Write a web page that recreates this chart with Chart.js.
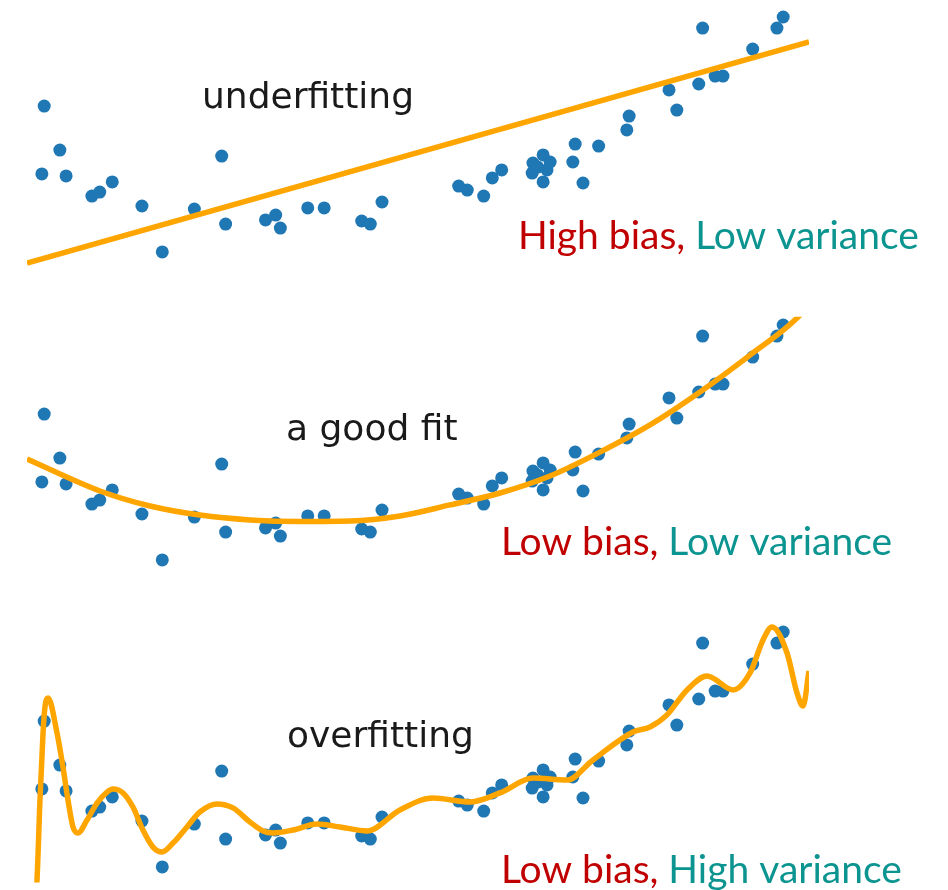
<!DOCTYPE html>
<html>
<head>
<meta charset="utf-8">
<script src="https://cdn.jsdelivr.net/npm/chart.js@4.4.1/dist/chart.umd.min.js"></script>
<style>
  html, body { margin: 0; padding: 0; background: #ffffff; }
  #wrap { position: relative; width: 948px; height: 890px; overflow: hidden; background: #ffffff; }
  #wrap canvas { position: absolute; left: 0; }
</style>
</head>
<body>
<div id="wrap">
  <canvas id="panel0" width="948" height="308" style="top:0px"></canvas>
  <canvas id="panel1" width="948" height="307" style="top:308px"></canvas>
  <canvas id="panel2" width="948" height="275" style="top:615px"></canvas>
</div>
<script>
// Observed samples (same set in every panel)
const sampleX = [0.019, 0.022, 0.042, 0.050, 0.083, 0.093, 0.109, 0.147, 0.173, 0.214,
                 0.249, 0.254, 0.305, 0.318, 0.324, 0.359, 0.380, 0.428, 0.439, 0.454,
                 0.552, 0.563, 0.584, 0.595, 0.607, 0.646, 0.647, 0.653, 0.660, 0.660,
                 0.665, 0.669, 0.698, 0.701, 0.711, 0.731, 0.767, 0.770, 0.821, 0.831,
                 0.859, 0.864, 0.880, 0.890, 0.928, 0.959, 0.967];
const sampleY = [0.403, 0.710, 0.511, 0.394, 0.303, 0.321, 0.367, 0.258, 0.050, 0.244,
                 0.484, 0.176, 0.195, 0.217, 0.158, 0.249, 0.249, 0.190, 0.176, 0.276,
                 0.348, 0.330, 0.303, 0.385, 0.421, 0.407, 0.452, 0.434, 0.489, 0.367,
                 0.421, 0.457, 0.457, 0.538, 0.362, 0.529, 0.602, 0.665, 0.783, 0.692,
                 0.810, 1.063, 0.846, 0.846, 0.968, 1.063, 1.113];

// Degree-1 model
const underfitX = [0, 1];
const underfitY = [0, 1];

// Quadratic-like model
const goodFitX = [0, 0.0934, 0.1573, 0.2212, 0.2852, 0.3491, 0.4130, 0.4770, 0.5409,
                  0.6049, 0.6688, 0.7327, 0.7967, 0.8606, 0.9246, 0.9859, 1.0];
const goodFitY = [0.507, 0.362, 0.294, 0.253, 0.231, 0.224, 0.226, 0.249, 0.299,
                  0.353, 0.430, 0.538, 0.661, 0.810, 0.977, 1.149, 1.210];

// High-degree model
const overfitX = [0, 0.0128, 0.0166, 0.0205, 0.0230, 0.0269, 0.0384, 0.0460, 0.0524, 0.0588,
                  0.0652, 0.0767, 0.0895, 0.1023, 0.1100, 0.1228, 0.1355, 0.1483, 0.1611, 0.1726,
                  0.1867, 0.2046, 0.2212, 0.2430, 0.2634, 0.2852, 0.3018, 0.3146, 0.3402, 0.3708,
                  0.4003, 0.4348, 0.4770, 0.5192, 0.5665, 0.6049, 0.6471, 0.6905, 0.7238, 0.7749,
                  0.7967, 0.8184, 0.8440, 0.8696, 0.9028, 0.9246, 0.9412, 0.9527, 0.9719, 0.9847,
                  0.9923, 1.0];
const overfitY = [-0.600, -0.009, 0.353, 0.656, 0.774, 0.814, 0.656, 0.502, 0.353, 0.231,
                  0.204, 0.262, 0.339, 0.389, 0.403, 0.385, 0.321, 0.217, 0.140, 0.118,
                  0.158, 0.231, 0.299, 0.335, 0.317, 0.253, 0.213, 0.204, 0.217, 0.244,
                  0.231, 0.213, 0.308, 0.362, 0.344, 0.385, 0.452, 0.443, 0.534, 0.661,
                  0.683, 0.738, 0.851, 0.914, 0.851, 0.928, 1.077, 1.136, 1.018, 0.837,
                  0.778, 0.937];

const panelTitles = ['underfitting', 'a good fit', 'overfitting'];
const biasLabels = ['High bias,', 'Low bias,', 'Low bias,'];
const varianceLabels = ['Low variance', 'Low variance', 'High variance'];

const toPoints = (xs, ys) => xs.map((x, i) => ({ x: x, y: ys[i] }));

// Caption painter: panel title plus the two-colour bias/variance note
const captionPlugin = {
  id: 'caption',
  afterDatasetsDraw(chart, args, opts) {
    const ctx = chart.ctx;
    ctx.save();
    ctx.textBaseline = 'alphabetic';
    ctx.textAlign = 'left';
    ctx.font = '36px "DejaVu Sans"';
    ctx.fillStyle = '#1a1a1a';
    ctx.fillText(opts.title, opts.titleX, opts.titleY);
    ctx.font = '39px Lato';
    const first = opts.bias + ' ';
    ctx.fillStyle = '#c00000';
    ctx.fillText(first, opts.noteX, opts.noteY);
    const w = ctx.measureText(first).width;
    ctx.fillStyle = '#0b9490';
    ctx.fillText(opts.variance, opts.noteX + w, opts.noteY);
    ctx.restore();
  }
};

const fits = [
  { x: underfitX, y: underfitY },
  { x: goodFitX, y: goodFitY },
  { x: overfitX, y: overfitY }
];
const captionPos = [
  { titleX: 202, titleY: 108, noteX: 518, noteY: 249 },
  { titleX: 286, titleY: 132, noteX: 501, noteY: 247 },
  { titleX: 287, titleY: 132, noteX: 501, noteY: 268 }
];

fits.forEach((fit, i) => {
  const canvas = document.getElementById('panel' + i);
  const h = canvas.height;
  new Chart(canvas, {
    type: 'scatter',
    data: {
      datasets: [
        {
          type: 'line',
          data: toPoints(fit.x, fit.y),
          borderColor: '#ffa500',
          borderWidth: 5.5,
          pointRadius: 0,
          fill: false,
          cubicInterpolationMode: 'monotone',
          clip: 0,
          order: 0
        },
        {
          type: 'scatter',
          data: toPoints(sampleX, sampleY),
          backgroundColor: '#1f77b4',
          borderWidth: 0,
          pointRadius: 6.5,
          pointHoverRadius: 6.5,
          order: 1
        }
      ]
    },
    options: {
      responsive: false,
      animation: false,
      devicePixelRatio: 1,
      events: [],
      layout: { padding: { left: 27, right: 139, top: 8.85, bottom: h - 267.42 } },
      scales: {
        x: { type: 'linear', min: 0, max: 1, display: false },
        y: { type: 'linear', min: -0.02, max: 1.15, display: false }
      },
      plugins: {
        legend: { display: false },
        tooltip: { enabled: false },
        caption: Object.assign({
          title: panelTitles[i],
          bias: biasLabels[i],
          variance: varianceLabels[i]
        }, captionPos[i])
      }
    },
    plugins: [captionPlugin]
  });
});
</script>
</body>
</html>
